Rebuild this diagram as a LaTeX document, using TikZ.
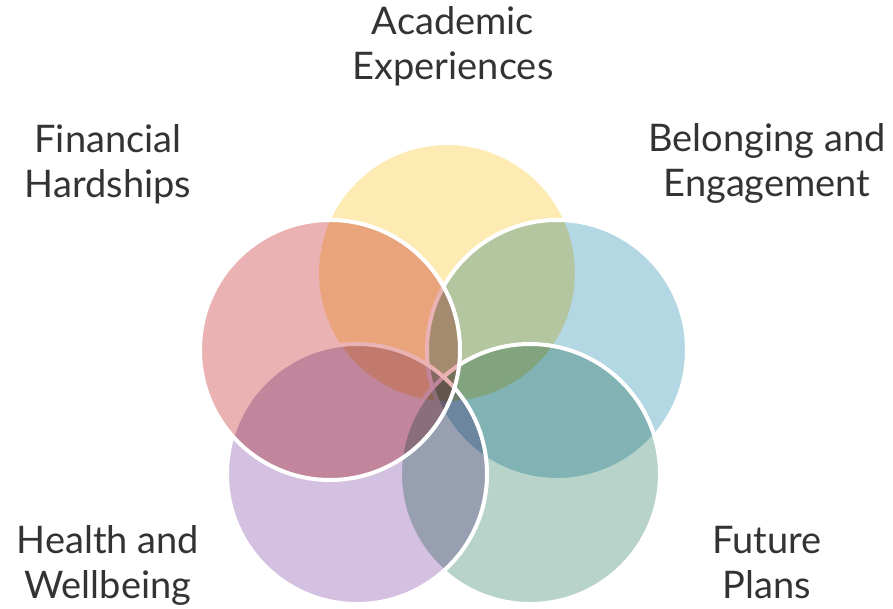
\documentclass[tikz,border=0pt]{standalone}
\usepackage{fontspec}
\setmainfont{Lato}
\definecolor{acadcol}{HTML}{FEEBB3}
\definecolor{belcol}{HTML}{B4D7E4}
\definecolor{futcol}{HTML}{B8D4CA}
\definecolor{healcol}{HTML}{D4C0E0}
\definecolor{fincol}{HTML}{EAB2B2}
\definecolor{txtcol}{HTML}{333333}
\begin{document}
\begin{tikzpicture}[x=1pt,y=-1pt,
    disk/.style={blend mode=multiply},
    rim/.style={draw=white,line width=4pt},
    lbl/.style={align=center,text=txtcol,
        font=\fontsize{38}{45}\selectfont}]
    \useasboundingbox (0,0) rectangle (893,608);
    % vòng tròn, từ dưới lên trên
    \fill[disk,acadcol] (447,273) circle (130pt);
    \draw[rim] (447,273) circle (130pt);
    \fill[disk,belcol] (557,350) circle (130pt);
    \draw[rim] (557,350) circle (130pt);
    \fill[disk,futcol] (530,474) circle (130pt);
    \draw[rim] (530,474) circle (130pt);
    \fill[disk,healcol] (357,474) circle (130pt);
    \draw[rim] (357,474) circle (130pt);
    \fill[disk,fincol] (330,350) circle (130pt);
    \draw[rim] (330,350) circle (130pt);
    % nhãn
    \path
    (453,46) node[lbl] (acad) {Academic\\Experiences}
    (108,164) node[lbl] (fin) {Financial\\Hardships}
    (767,163) node[lbl] (bel) {Belonging and\\Engagement}
    (108,565) node[lbl] (heal) {Health and\\Wellbeing}
    (767,563) node[lbl] (fut) {Future\\Plans};
\end{tikzpicture}
\end{document}
